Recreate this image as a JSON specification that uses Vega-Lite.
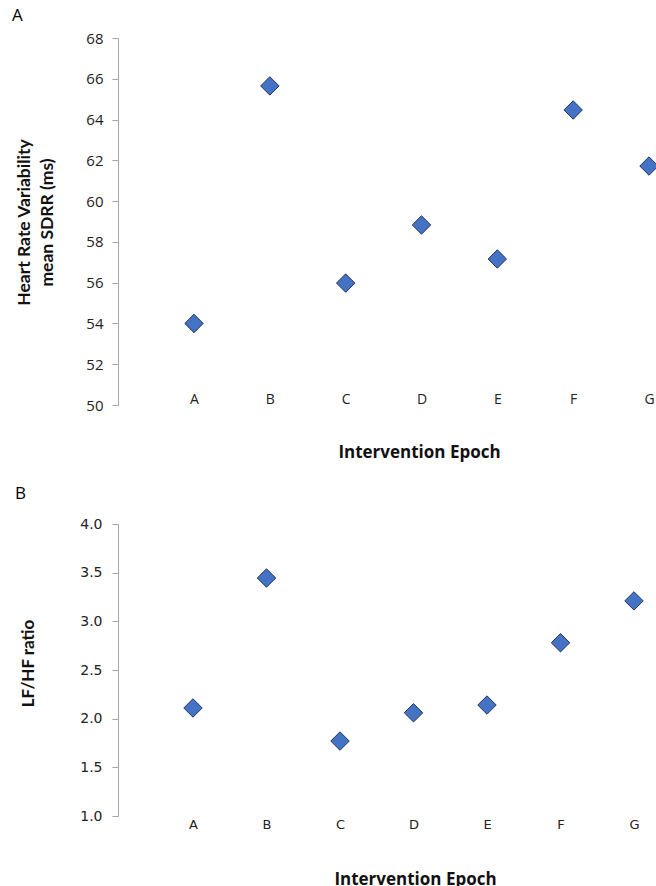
{
  "$schema": "https://vega.github.io/schema/vega-lite/v6.json",
  "padding": {"top": 7, "left": 12, "right": 0, "bottom": 0},
  "spacing": 25,
  "config": {"view": {"stroke": null}, "font": "Open Sans"},
  "vconcat": [
    {
      "title": {"text": "A", "anchor": "start", "frame": "group", "dx": -106, "fontSize": 17, "fontWeight": "normal", "font": "Open Sans", "offset": 6, "color": "#000"},
      "width": 538,
      "height": 367,
      "data": {"values": [
        {"epoch": "A", "v": 54.0},
        {"epoch": "B", "v": 65.65},
        {"epoch": "C", "v": 55.98},
        {"epoch": "D", "v": 58.83},
        {"epoch": "E", "v": 57.16},
        {"epoch": "F", "v": 64.47},
        {"epoch": "G", "v": 61.72}
      ]},
      "mark": {"type": "point", "shape": "diamond", "filled": true, "size": 340, "fill": "#4472c4", "stroke": "#22365e", "strokeWidth": 1, "opacity": 1},
      "encoding": {
        "x": {"field": "epoch", "type": "nominal", "scale": {"type": "point", "range": [76, 531], "padding": 0},
          "axis": {"title": "Intervention Epoch", "domain": false, "ticks": false, "tickSize": 0, "labelPadding": -13, "labelAngle": 0, "labelFontSize": 14, "labelColor": "#222", "labelFont": "Open Sans",
            "titleFontSize": 17, "titleFont": "Open Sans", "titleFontWeight": "bold", "titleColor": "#111", "titleX": 301, "titleY": 47, "titleBaseline": "middle", "titleAlign": "center"}},
        "y": {"field": "v", "type": "quantitative", "scale": {"domain": [50, 68], "nice": false, "zero": false},
          "axis": {"values": [50, 52, 54, 56, 58, 60, 62, 64, 66, 68], "grid": false, "domainColor": "#a6a6a6", "tickColor": "#a6a6a6", "tickSize": 6, "labelPadding": 9, "labelFontSize": 15, "labelFont": "Open Sans", "labelColor": "#222",
            "title": ["Heart Rate Variability", "mean SDRR (ms)"], "titleFont": "Lato", "titleFontSize": 17.5, "titleFontWeight": "bold", "titleColor": "#111", "titleLineHeight": 23, "titleX": -94, "titleY": 184, "titleBaseline": "middle", "titleAngle": -90, "titleAlign": "center"}}
      }
    },
    {
      "title": {"text": "B", "anchor": "start", "frame": "group", "dx": -103, "fontSize": 17, "fontWeight": "normal", "font": "Open Sans", "offset": 14, "color": "#000"},
      "width": 538,
      "height": 292,
      "data": {"values": [
        {"epoch": "A", "v": 2.11},
        {"epoch": "B", "v": 3.445},
        {"epoch": "C", "v": 1.77},
        {"epoch": "D", "v": 2.06},
        {"epoch": "E", "v": 2.14},
        {"epoch": "F", "v": 2.78},
        {"epoch": "G", "v": 3.21}
      ]},
      "mark": {"type": "point", "shape": "diamond", "filled": true, "size": 340, "fill": "#4472c4", "stroke": "#22365e", "strokeWidth": 1, "opacity": 1},
      "encoding": {
        "x": {"field": "epoch", "type": "nominal", "scale": {"type": "point", "range": [75, 516], "padding": 0},
          "axis": {"title": "Intervention Epoch", "domain": false, "ticks": false, "tickSize": 0, "labelPadding": 2, "labelAngle": 0, "labelFontSize": 13, "labelColor": "#222", "labelFont": "DejaVu Sans",
            "titleFontSize": 17, "titleFont": "Open Sans", "titleFontWeight": "bold", "titleColor": "#111", "titleX": 297, "titleY": 63, "titleBaseline": "middle", "titleAlign": "center"}},
        "y": {"field": "v", "type": "quantitative", "scale": {"domain": [1, 4], "nice": false, "zero": false},
          "axis": {"values": [1, 1.5, 2, 2.5, 3, 3.5, 4], "format": ".1f", "grid": false, "domainColor": "#a6a6a6", "tickColor": "#a6a6a6", "tickSize": 6, "labelPadding": 10, "labelFontSize": 14, "labelColor": "#222", "labelFont": "DejaVu Sans",
            "title": "LF/HF ratio", "titleFont": "Lato", "titleFontSize": 17, "titleFontWeight": "bold", "titleColor": "#111", "titleX": -90, "titleY": 139, "titleBaseline": "middle", "titleAngle": -90, "titleAlign": "center"}}
      }
    }
  ]
}
